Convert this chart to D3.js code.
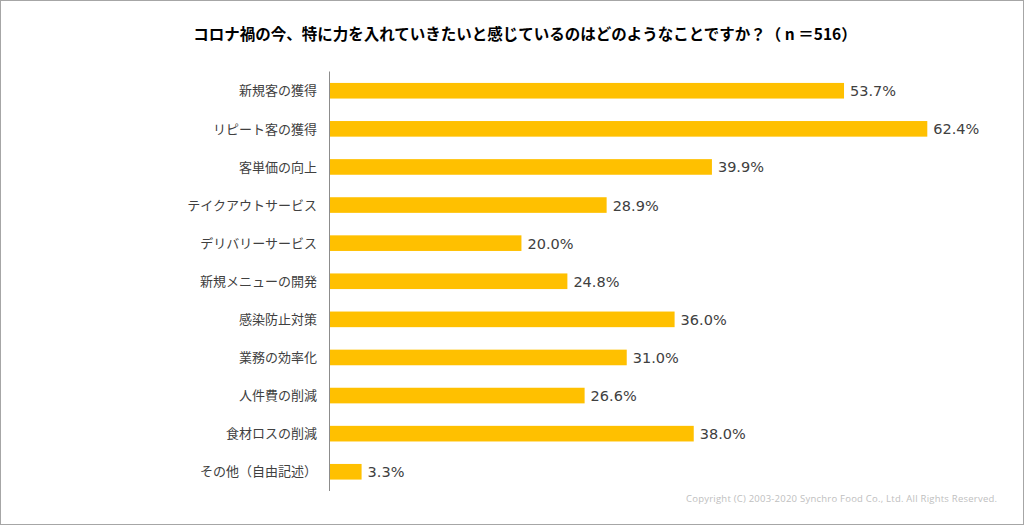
<!DOCTYPE html>
<html><head><meta charset="utf-8">
<script src="https://cdn.jsdelivr.net/npm/d3@7"></script>
<style>body{margin:0;background:#fff}svg{display:block}</style>
</head><body>
<svg id="c" width="1024" height="525"></svg>
<script>
const title = "コロナ禍の今、特に力を入れていきたいと感じているのはどのようなことですか？（ n ＝516）";
const categories = ["新規客の獲得","リピート客の獲得","客単価の向上","テイクアウトサービス","デリバリーサービス","新規メニューの開発","感染防止対策","業務の効率化","人件費の削減","食材ロスの削減","その他（自由記述）"];
const values = [53.7,62.4,39.9,28.9,20.0,24.8,36.0,31.0,26.6,38.0,3.3];
const copyright = "Copyright (C) 2003-2020   Synchro Food Co., Ltd.  All Rights Reserved.";

const svg = d3.select("#c");
const font = "'Noto Sans CJK JP', sans-serif";
svg.append("rect").attr("x",0.5).attr("y",0.5).attr("width",1023).attr("height",524)
  .attr("fill","#fff").attr("stroke","#a6a6a6");

svg.append("text").attr("x",525).attr("y",39.5).attr("text-anchor","middle")
  .attr("font-family",font).attr("font-weight","bold").attr("font-size",15.5)
  .attr("fill","#000").text(title);

const x = d3.scaleLinear().domain([0,62.4]).range([330,927.3]);
const y = d3.scaleBand().domain(categories).range([71.5,491]).paddingInner(0.59).paddingOuter(0.3);

svg.selectAll("rect.bar").data(categories).join("rect").attr("class","bar")
  .attr("x",x(0)).attr("y",d=>y(d)).attr("height",y.bandwidth())
  .attr("width",(d,i)=>x(values[i])-x(0)).attr("fill","#ffc000");

svg.append("line").attr("x1",329.5).attr("x2",329.5).attr("y1",71.5).attr("y2",491)
  .attr("stroke","#8c8c8c").attr("stroke-width",1);

svg.selectAll("text.cat").data(categories).join("text").attr("class","cat")
  .attr("x",317).attr("y",d=>y(d)+y.bandwidth()/2).attr("dy","0.36em")
  .attr("text-anchor","end").attr("font-family",font).attr("font-size",13)
  .attr("fill","#404040").text(d=>d);

svg.selectAll("text.val").data(categories).join("text").attr("class","val")
  .attr("x",(d,i)=>x(values[i])+6).attr("y",d=>y(d)+y.bandwidth()/2).attr("dy","0.38em")
  .attr("font-family","'DejaVu Sans', sans-serif").attr("font-size",14.5)
  .attr("fill","#404040").text((d,i)=>values[i].toFixed(1)+"%");

svg.append("text").attr("x",997).attr("y",502).attr("text-anchor","end")
  .attr("font-family","'Open Sans', sans-serif").attr("font-size",9.5)
  .attr("textLength",311).attr("lengthAdjust","spacing")
  .attr("fill","#c0c0c0").text(copyright);
</script>
</body></html>
